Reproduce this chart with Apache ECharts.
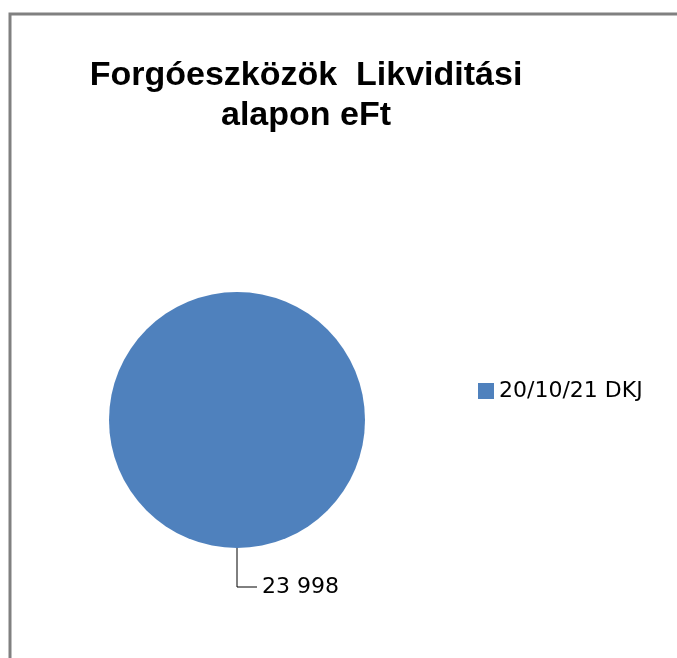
<!DOCTYPE html>
<html>
<head>
  <meta charset="utf-8">
  <title>ECharts</title>
  <script src="https://cdn.jsdelivr.net/npm/echarts@6/dist/echarts.min.js"></script>
  <style>
    body { margin: 0; background: #fff; }
    #main { width: 677px; height: 658px; }
  </style>
</head>
<body>
  <div id="main"></div>
  <script type="text/javascript">
    // data
    var titleText = 'Forgóeszközök  Likviditási\nalapon eFt';
    var seriesNames = ['20/10/21 DKJ'];
    var seriesValues = [23998];

    var myChart = echarts.init(document.getElementById('main'));

    var pieData = [];
    for (var i = 0; i < seriesNames.length; i++) {
      pieData.push({ name: seriesNames[i], value: seriesValues[i] });
    }

    var option = {
      animation: false,
      backgroundColor: '#fff',
      graphic: [{
        type: 'rect',
        shape: { x: 10, y: 14, width: 720, height: 720 },
        style: { fill: 'none', stroke: '#808080', lineWidth: 3 },
        silent: true
      }],
      title: {
        text: titleText,
        left: 301,
        top: 51,
        textAlign: 'center',
        textStyle: {
          fontFamily: 'Liberation Sans',
          fontWeight: 'bold',
          fontSize: 34,
          lineHeight: 40,
          color: '#000'
        }
      },
      legend: {
        orient: 'vertical',
        left: 478,
        top: 380,
        padding: 0,
        itemWidth: 16,
        itemHeight: 16,
        itemGap: 6,
        icon: 'rect',
        textStyle: {
          fontFamily: 'DejaVu Sans',
          fontSize: 22,
          color: '#000'
        },
        data: seriesNames
      },
      series: [{
        type: 'pie',
        center: [237, 420],
        radius: 128,
        startAngle: 90,
        color: ['#4f81bd'],
        data: pieData,
        label: {
          show: true,
          position: 'outside',
          fontFamily: 'DejaVu Sans',
          fontSize: 22,
          color: '#000',
          formatter: function (p) {
            return String(p.value).replace(/\B(?=(\d{3})+(?!\d))/g, ' ');
          }
        },
        labelLine: {
          show: true,
          length: 39,
          length2: 20,
          lineStyle: { color: '#000', width: 1 }
        },
        emphasis: { disabled: true }
      }]
    };
    myChart.setOption(option);
  </script>
</body>
</html>
